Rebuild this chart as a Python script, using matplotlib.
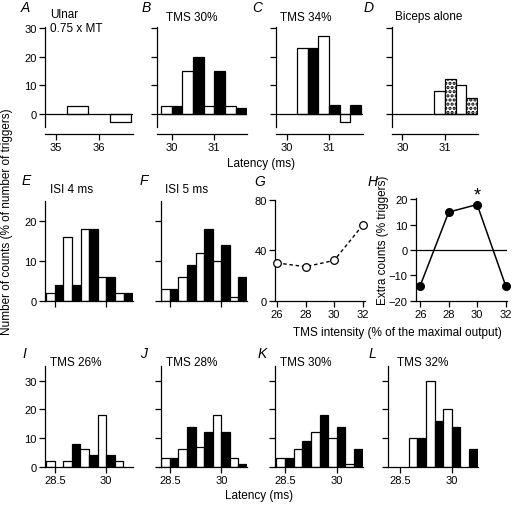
import matplotlib
matplotlib.use("Agg")
import matplotlib.pyplot as plt

plt.rcParams['font.family'] = ['Liberation Sans', 'DejaVu Sans']
plt.rcParams['font.size'] = 8
plt.rcParams['hatch.linewidth'] = 1.6

W, H = 517, 510

# --- data (latency bins are 0.25 ms, white/black alternate) ---
a_starts = [35.25, 36.25]
a_vals = [2.7, -2.7]
b_start = 29.75
b_vals = [2.7, 2.7, 15, 20, 2.7, 15, 2.7, 2]
c_start = 30.25
c_vals = [23, 23, 27, 3, -3, 3]
d_start = 30.75
d_vals = [8, 12, 10, 5.5]
e_start = 28.25
e_vals = [2, 4, 16, 4, 18, 18, 6, 6, 2, 2]
f_vals = [3, 3, 6, 9, 12, 18, 10, 14, 1, 6]
i_vals = [2, 0, 2, 8, 6, 4, 18, 4, 2]
j_vals = [3, 3, 6, 14, 7, 12, 18, 12, 3, 1]
k_vals = [3, 3, 6, 9, 12, 18, 10, 14, 1, 6]
l_vals = [0, 0, 10, 10, 30, 16, 20, 14, 0, 6]
tms_int = [26, 28, 30, 32]
g_vals = [30, 27, 32, 60]
h_vals = [-14, 15, 18, -14]

fig = plt.figure(figsize=(W / 100, H / 100), dpi=100)


def add_ax(left, top, width, height):
    ax = fig.add_axes([left / W, 1 - (top + height) / H, width / W, height / H])
    ax.spines['top'].set_visible(False)
    ax.spines['right'].set_visible(False)
    for s in ['left', 'bottom']:
        ax.spines[s].set_linewidth(0.9)
    ax.tick_params(direction='out', length=4, width=0.9, pad=2, labelsize=8)
    ax.patch.set_alpha(0)
    return ax


def ftext(x, y, s, **kw):
    fig.text(x / W, 1 - y / H, s, **kw)


def hist(ax, start, vals, width=0.25, second='black', hatch=None):
    for n, v in enumerate(vals):
        fc = 'white' if n % 2 == 0 else second
        h = hatch if n % 2 == 1 else None
        if v == 0:
            continue
        ax.bar(start + n * width, v, width=width, align='edge', facecolor=fc,
               edgecolor='black', linewidth=0.9, hatch=h)


# row 1
row1 = [(45, 88, (34.74, 36.79), [35, 36]),
        (157, 90, (29.65, 31.77), [30, 31]),
        (276, 87, (29.75, 31.8), [30, 31]),
        (391.7, 86, (29.75, 31.77), [30, 31])]
axs1 = []
for n, (lft, wd, xl, xt) in enumerate(row1):
    ax = add_ax(lft, 28, wd, 100)
    ax.set_xlim(*xl)
    ax.set_ylim(-4.6, 30.3)
    ax.set_xticks(xt)
    ax.set_yticks([0, 10, 20, 30])
    ax.spines['bottom'].set_position(('outward', 5))
    ax.axhline(0, color='black', lw=0.9)
    if n > 0:
        ax.set_yticklabels([])
    axs1.append(ax)

ax = axs1[0]
for s, v in zip(a_starts, a_vals):
    ax.bar(s, v, width=0.5, align='edge', facecolor='white', edgecolor='black', linewidth=0.9)
hist(axs1[1], b_start, b_vals)
hist(axs1[2], c_start, c_vals)
hist(axs1[3], d_start, d_vals, second='white', hatch='....')

# row 2 histograms
for lft, wd, xl, vals, lab in [(45, 88, (28.22, 30.77), e_vals, True),
                               (161, 86, (28.24, 30.75), f_vals, False)]:
    ax = add_ax(lft, 201.7, wd, 100)
    ax.set_xlim(*xl)
    ax.set_ylim(0, 25)
    ax.set_xticks([28.5, 30])
    ax.set_xticklabels([])
    ax.set_yticks([0, 10, 20])
    if not lab:
        ax.set_yticklabels([])
    hist(ax, e_start, vals)

# G
ax = add_ax(275, 201, 90, 100.7)
ax.set_xlim(25.86, 32.16)
ax.set_ylim(0, 80)
ax.set_xticks(tms_int)
ax.set_yticks([0, 40, 80])
ax.plot(tms_int, g_vals, color='black', lw=1, ls=(0, (2.5, 2)), marker='o',
        markersize=5.5, markerfacecolor='white', markeredgecolor='black',
        markeredgewidth=0.9, clip_on=False, zorder=3)

# H
ax = add_ax(416, 199.2, 91, 102.5)
ax.set_xlim(25.7, 32.1)
ax.set_ylim(-20, 20.5)
ax.set_xticks(tms_int)
ax.set_yticks([-20, -10, 0, 10, 20])
ax.axhline(0, color='black', lw=0.9)
ax.plot(tms_int, h_vals, color='black', lw=1.1, marker='o', markersize=5.5,
        clip_on=False, zorder=3)
ax.text(30, 21.8, '*', ha='center', va='center', fontsize=13)

# row 3
row3 = [(45, 88, (28.21, 30.79), i_vals),
        (161, 86, (28.24, 30.75), j_vals),
        (275, 87.7, (28.21, 30.75), k_vals),
        (388.3, 89.4, (28.16, 30.75), l_vals)]
for n, (lft, wd, xl, vals) in enumerate(row3):
    ax = add_ax(lft, 366.7, wd, 101)
    ax.set_xlim(*xl)
    ax.set_ylim(0, 35.2)
    ax.set_xticks([28.5, 30])
    ax.set_xticklabels(['28.5', '30'])
    ax.set_yticks([0, 10, 20, 30])
    if n > 0:
        ax.set_yticklabels([])
    hist(ax, e_start, vals)

# panel letters
for s, x, y in [('A', 25, 8), ('B', 146, 8), ('C', 257, 8), ('D', 369, 8),
                ('E', 26, 181), ('F', 144, 181), ('G', 260, 182), ('H', 373, 182),
                ('I', 24, 354), ('J', 144, 354), ('K', 262, 354), ('L', 372, 354)]:
    ftext(x, y, s, ha='center', va='center', fontsize=10, style='italic')

# panel titles
for s, x, y in [('Ulnar', 50, 15), ('0.75 x MT', 50, 29), ('TMS 30%', 166, 18),
                ('TMS 34%', 280, 18), ('Biceps alone', 395, 17),
                ('ISI 4 ms', 50, 190), ('ISI 5 ms', 165, 190),
                ('TMS 26%', 50, 363), ('TMS 28%', 166, 363),
                ('TMS 30%', 280, 363), ('TMS 32%', 397, 363)]:
    ftext(x, y, s, ha='left', va='center', fontsize=8.5)

ftext(261, 164, 'Latency (ms)', ha='center', va='center', fontsize=8.5)
ftext(259, 496, 'Latency (ms)', ha='center', va='center', fontsize=8.5)
ftext(397, 333, 'TMS intensity (% of the maximal output)', ha='center', va='center', fontsize=8.5)
ftext(7.5, 222, 'Number of counts (% of number of triggers)', ha='center', va='center',
      rotation=90, fontsize=8.5)
ftext(383, 240, 'Extra counts (% triggers)', ha='center', va='center', rotation=90, fontsize=8.5)

fig.savefig('out.png', dpi=100)
